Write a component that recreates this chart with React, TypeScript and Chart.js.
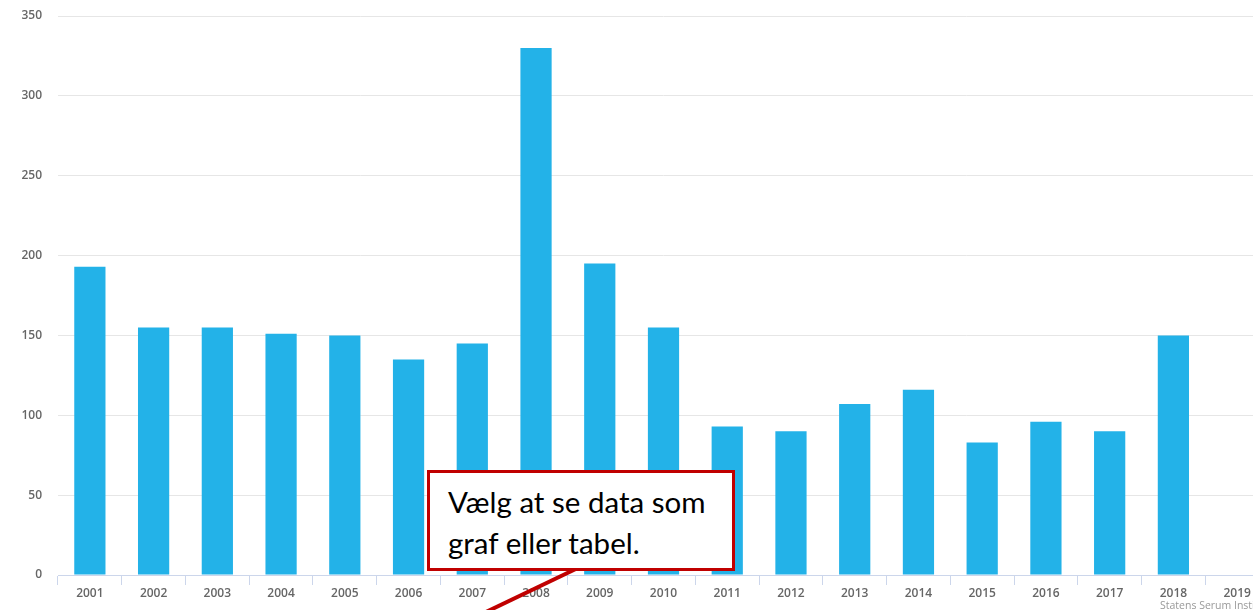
import React, { useEffect, useRef } from "react";
import { Chart, registerables } from "chart.js";

Chart.register(...registerables);

const years = ["2001","2002","2003","2004","2005","2006","2007","2008","2009","2010","2011","2012","2013","2014","2015","2016","2017","2018","2019"];
const values: (number | null)[] = [193,155,155,151,150,135,145,330,195,155,93,90,107,116,83,96,90,150,null];
const yTicks = [0, 50, 100, 150, 200, 250, 300, 350];
const calloutLines = ["Vælg at se data som", "graf eller tabel."];
const creditText = "Statens Serum Institut";

export default function App() {
  const ref = useRef<HTMLCanvasElement | null>(null);
  useEffect(() => {
    document.body.style.margin = "0";
    document.body.style.overflow = "hidden";
    if (!ref.current) return;
    const chart = new Chart(ref.current, {
      type: "bar",
      data: {
        labels: years,
        datasets: [{
          data: values,
          backgroundColor: "#23b2e8",
          borderWidth: 0,
          barPercentage: 0.49,
          categoryPercentage: 1,
        }],
      },
      options: {
        animation: false,
        responsive: false,
        layout: { padding: { top: 16, right: 11, left: 0, bottom: 0 } },
        plugins: { legend: { display: false }, tooltip: { enabled: false } },
        scales: {
          x: {
            offset: true,
            grid: { offset: true, drawOnChartArea: false, color: "#ccd6eb", tickLength: 10, lineWidth: 1 },
            border: { color: "#ccd6eb", width: 1 },
            ticks: { color: "#666666", padding: 1, font: { family: "Open Sans", size: 12, weight: 600 }, maxRotation: 0, autoSkip: false },
            afterFit: (s: any) => { s.height = 35; s.paddingLeft = 0; s.paddingRight = 0; },
          },
          y: {
            min: 0,
            max: 350,
            afterBuildTicks: (s: any) => { s.ticks = yTicks.map((v) => ({ value: v })); },
            grid: { color: "#e6e6e6", drawTicks: false, lineWidth: 1 },
            border: { display: false },
            ticks: { color: "#666666", padding: 16, font: { family: "Open Sans", size: 12, weight: 600 } },
            afterFit: (s: any) => { s.width = 58; s.paddingTop = 0; s.paddingBottom = 0; },
          },
        },
      },
    });
    return () => chart.destroy();
  }, []);

  return (
    <div style={{ position: "fixed", left: 0, top: 0, width: 1253, height: 610, overflow: "hidden", background: "#fff" }}>
      <canvas ref={ref} width={1280} height={610} style={{ position: "absolute", left: 0, top: 0 }} />
      <svg width={1253} height={610} style={{ position: "absolute", left: 0, top: 0 }}>
        <line x1={582} y1={566} x2={486} y2={612} stroke="#c00000" strokeWidth={4} />
      </svg>
      <div style={{
        position: "absolute", left: 427, top: 470, width: 308, height: 101, boxSizing: "border-box",
        border: "3px solid #c00000", background: "#fff", padding: "8px 0 0 18px",
        fontFamily: "Lato, 'Liberation Sans', sans-serif", fontSize: 29.5, lineHeight: "41px", color: "#000",
        whiteSpace: "nowrap",
      }}>
        {calloutLines.map((l, i) => <div key={i}>{l}</div>)}
      </div>
      <div style={{
        position: "absolute", left: 1160, top: 598, whiteSpace: "nowrap",
        fontFamily: "'Open Sans', sans-serif", fontSize: 10.5, color: "#999",
      }}>{creditText}</div>
    </div>
  );
}
